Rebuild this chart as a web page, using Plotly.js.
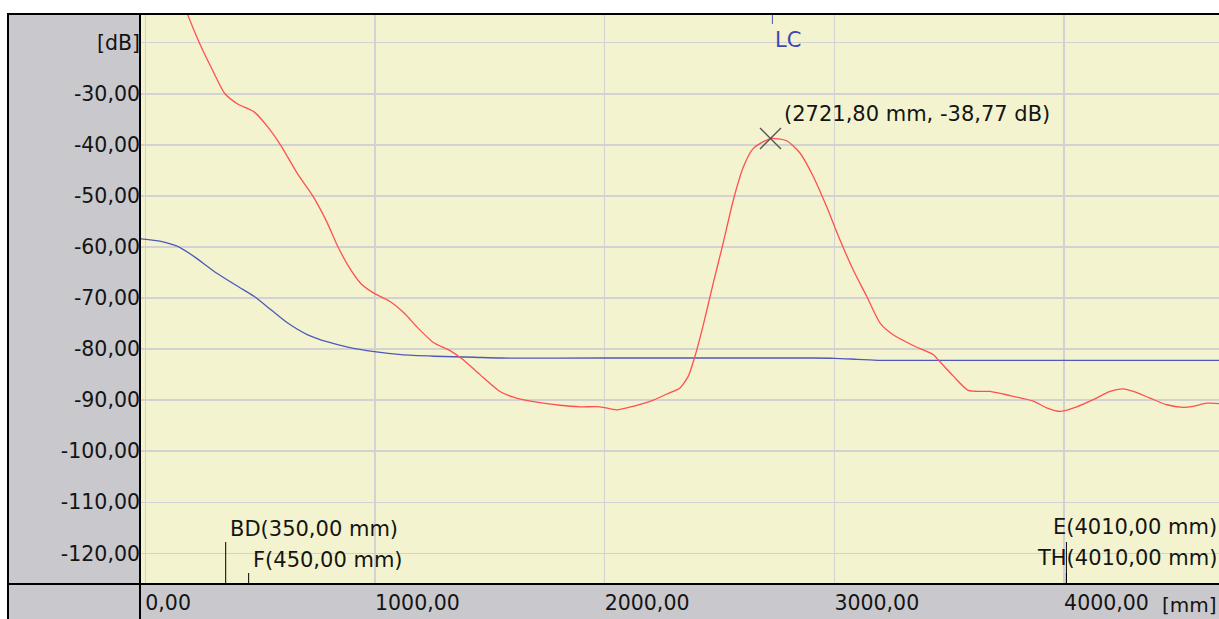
<!DOCTYPE html>
<html><head><meta charset="utf-8">
<script src="https://cdn.plot.ly/plotly-3.0.1.min.js"></script>
<style>html,body{margin:0;padding:0;background:#fff;overflow:hidden}#chart{width:1219px;height:619px}</style>
</head><body><div id="chart"></div>
<script>
// ---- data (mm, dB) ----
const redX = [80, 140, 185, 235, 293, 345, 402, 475, 533, 591, 663, 729, 787, 837, 881, 939, 997, 1062, 1128, 1181, 1254, 1327, 1384, 1457, 1544, 1602, 1704, 1805, 1893, 1980, 2052, 2125, 2212, 2270, 2328, 2364, 2393, 2429, 2473, 2516, 2560, 2604, 2647, 2721.8, 2792, 2850, 2908, 2966, 3024, 3082, 3141, 3199, 3256, 3343, 3431, 3452, 3518, 3583, 3677, 3764, 3866, 3924, 3982, 4055, 4127, 4200, 4258, 4301, 4374, 4447, 4519, 4562, 4621, 4680];
const redY = [-2.5, -9.4, -14.6, -20.0, -25.4, -29.9, -32.0, -33.6, -36.5, -40.2, -45.7, -50.0, -54.8, -59.8, -63.5, -67.2, -69.1, -70.6, -73.0, -75.6, -78.7, -80.3, -82.1, -85.0, -88.3, -89.4, -90.4, -91.0, -91.3, -91.3, -91.9, -91.2, -90.0, -88.8, -87.6, -85.3, -81.4, -75.3, -67.0, -59.2, -50.8, -44.3, -40.7, -38.77, -39.2, -41.6, -46.2, -52.1, -58.6, -64.5, -69.7, -74.9, -77.2, -79.3, -81.1, -82.1, -85.3, -88.1, -88.3, -89.1, -90.2, -91.5, -92.2, -91.3, -89.9, -88.3, -87.8, -88.3, -89.6, -90.9, -91.4, -91.2, -90.6, -90.7];
const blueX = [-20, 68, 141, 213, 300, 402, 475, 547, 620, 707, 794, 881, 997, 1113, 1258, 1432, 1549, 2000, 2900, 3000, 3100, 3200, 3500, 4000, 4680];
const blueY = [-58.4, -58.9, -59.9, -61.9, -64.8, -67.7, -69.7, -72.3, -74.9, -77.2, -78.6, -79.6, -80.5, -81.1, -81.4, -81.6, -81.75, -81.75, -81.75, -81.8, -82.0, -82.2, -82.2, -82.2, -82.2];

const xTickVals = [0, 1000, 2000, 3000, 4000];
const xTickText = ['0,00', '1000,00', '2000,00', '3000,00', '4000,00'];
const yTickVals = [-20, -30, -40, -50, -60, -70, -80, -90, -100, -110, -120];
const yTickText = ['[dB]', '-30,00', '-40,00', '-50,00', '-60,00', '-70,00', '-80,00', '-90,00', '-100,00', '-110,00', '-120,00'];
const xUnit = '[mm]';

const markerNames = ['BD', 'F', 'E', 'TH'];
const markerPos = [350, 450, 4010, 4010];
const lcName = 'LC';
const lcPos = 2730;
const peakX = 2721.80;
const peakY = -38.77;

// ---- layout helpers ----
const W = 1219, H = 619, ML = 141, MR = 0, MT = 15, MB = 35;
const PW = W - ML - MR, PH = H - MT - MB;
const px = v => (v - ML) / PW;          // page x -> paper x
const py = v => (H - MB - v) / PH;      // page y -> paper y
const fmt = v => v.toFixed(2).replace('.', ',');

const FONT = 'DejaVu Sans, Verdana, sans-serif';
const TXT = '#141414';
const GRAY = '#c9c9cd';
const PLOTBG = '#f3f4cf';

const traces = [
  {x: blueX, y: blueY, type: 'scatter', mode: 'lines', line: {color: '#5058bb', width: 1.3, shape: 'spline', smoothing: 0.6}, hoverinfo: 'skip'},
  {x: redX, y: redY, type: 'scatter', mode: 'lines', line: {color: '#ff4f4f', width: 1.3, shape: 'spline', smoothing: 0.6}, hoverinfo: 'skip'},
  {x: [peakX], y: [peakY], type: 'scatter', mode: 'markers', marker: {symbol: 'x-thin-open', size: 21, color: '#555555', line: {color: '#555555', width: 1.4}}, hoverinfo: 'skip'}
];

const shapes = [
  {type: 'rect', xref: 'paper', yref: 'paper', x0: px(0), x1: px(W), y0: py(13), y1: py(0), fillcolor: '#ffffff', line: {width: 0}},
  {type: 'rect', xref: 'paper', yref: 'paper', x0: px(0), x1: px(7), y0: py(H), y1: py(0), fillcolor: '#ffffff', line: {width: 0}},
  {type: 'line', xref: 'paper', yref: 'paper', x0: px(7), x1: px(W), y0: py(14), y1: py(14), line: {color: '#000', width: 2}},
  {type: 'line', xref: 'paper', yref: 'paper', x0: px(8), x1: px(8), y0: py(13), y1: py(H), line: {color: '#000', width: 2}},
  {type: 'line', xref: 'paper', yref: 'paper', x0: px(140), x1: px(140), y0: py(13), y1: py(H), line: {color: '#000', width: 2}},
  {type: 'line', xref: 'paper', yref: 'paper', x0: px(7), x1: px(W), y0: py(584), y1: py(584), line: {color: '#000', width: 2}},
];
const longTick = py(542), shortTick = py(573);
markerNames.forEach((n, i) => {
  shapes.push({type: 'line', xref: 'x', yref: 'paper', x0: markerPos[i], x1: markerPos[i], y0: 0, y1: (i % 2 === 0) ? longTick : shortTick, line: {color: '#000', width: 1}});
});
shapes.push({type: 'line', xref: 'x', yref: 'paper', x0: lcPos, x1: lcPos, y0: py(24), y1: 1, line: {color: '#4a52b8', width: 1}});

const annFont = {family: FONT, size: 21, color: TXT};
const annotations = [
  {xref: 'x', yref: 'paper', x: markerPos[0], y: py(529), text: markerNames[0] + '(' + fmt(markerPos[0]) + ' mm)', xanchor: 'left', yanchor: 'middle', xshift: 2, showarrow: false, font: annFont},
  {xref: 'x', yref: 'paper', x: markerPos[1], y: py(560), text: markerNames[1] + '(' + fmt(markerPos[1]) + ' mm)', xanchor: 'left', yanchor: 'middle', xshift: 2, showarrow: false, font: annFont},
  {xref: 'paper', yref: 'paper', x: px(1219), y: py(527), text: markerNames[2] + '(' + fmt(markerPos[2]) + ' mm)', xanchor: 'right', yanchor: 'middle', showarrow: false, font: annFont},
  {xref: 'paper', yref: 'paper', x: px(1219), y: py(558), text: markerNames[3] + '(' + fmt(markerPos[3]) + ' mm)', xanchor: 'right', yanchor: 'middle', showarrow: false, font: annFont},
  {xref: 'x', yref: 'paper', x: lcPos, y: py(40), text: lcName, xanchor: 'left', yanchor: 'middle', xshift: 1, showarrow: false, font: {family: FONT, size: 21, color: '#3f48b0'}},
  {xref: 'x', yref: 'y', x: peakX, y: peakY, text: '(' + fmt(peakX) + ' mm, ' + fmt(peakY) + ' dB)', xanchor: 'left', yanchor: 'middle', xshift: 11, yshift: 25, showarrow: false, font: annFont},
  {xref: 'paper', yref: 'paper', x: px(1219), y: py(605), text: xUnit, xanchor: 'right', yanchor: 'middle', showarrow: false, font: {family: FONT, size: 20, color: TXT}},
];

const layout = {
  width: W, height: H,
  margin: {l: ML, r: MR, t: MT, b: MB, pad: 0},
  paper_bgcolor: GRAY,
  plot_bgcolor: PLOTBG,
  showlegend: false,
  hovermode: false,
  font: {family: FONT, size: 20, color: TXT},
  xaxis: {
    range: [(ML - 145.3) / 0.2297, (W - 145.3) / 0.2297],
    tickmode: 'array', tickvals: xTickVals, ticktext: xTickText,
    ticks: '', showline: false, zeroline: false,
    showgrid: true, gridcolor: '#d2d2d2', gridwidth: 1.5,
    ticklabelposition: 'outside right',
    ticklabelstandoff: 4,
    tickfont: {family: FONT, size: 20.5, color: TXT}
  },
  yaxis: {
    range: [-126.0, -14.58],
    tickmode: 'array', tickvals: yTickVals, ticktext: yTickText,
    ticks: '', showline: false, zeroline: false,
    showgrid: true, gridcolor: '#d2d2d2', gridwidth: 1.5,
    tickfont: {family: FONT, size: 20.5, color: TXT}
  },
  shapes: shapes,
  annotations: annotations
};

Plotly.newPlot('chart', traces, layout, {staticPlot: true, displayModeBar: false});
</script>
</body></html>
